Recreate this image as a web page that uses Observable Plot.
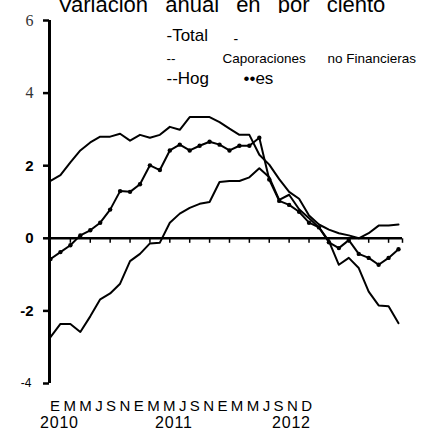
<!DOCTYPE html>
<html>
<head>
<meta charset="utf-8">
<script src="https://cdn.jsdelivr.net/npm/d3@7"></script>
<script src="https://cdn.jsdelivr.net/npm/@observablehq/plot@0.6"></script>
<style>
  html, body { margin: 0; padding: 0; background: #fff; }
  #wrap { position: relative; width: 421px; height: 429px; overflow: hidden; font-family: "Liberation Sans", Arial, sans-serif; color: #000; }
  .abs { position: absolute; white-space: nowrap; }
  #title { left: 58px; top: -5.6px; font-size: 22px; line-height: 22px; word-spacing: 11px; }
  #months { left: 50px; top: 398.3px; font-size: 15px; line-height: 15px; letter-spacing: 3.4px; }
  .year { top: 414.5px; font-size: 16px; line-height: 16px; letter-spacing: 0.8px; }
  #chart { position: absolute; left: 0; top: 13px; }
</style>
</head>
<body>
<div id="wrap">
  <div id="title" class="abs"></div>
  <div id="chart"></div>
  <div id="months" class="abs"></div>
</div>
<script>
// ---- data ----
const months = ["2010-01","2010-02","2010-03","2010-04","2010-05","2010-06","2010-07","2010-08","2010-09","2010-10","2010-11","2010-12",
                "2011-01","2011-02","2011-03","2011-04","2011-05","2011-06","2011-07","2011-08","2011-09","2011-10","2011-11","2011-12",
                "2012-01","2012-02","2012-03","2012-04","2012-05","2012-06","2012-07","2012-08","2012-09","2012-10","2012-11","2012-12"];
const total = [1.58,1.74,2.09,2.42,2.64,2.80,2.80,2.88,2.69,2.85,2.77,2.85,
               3.07,2.99,3.34,3.34,3.34,3.20,3.02,2.85,2.85,2.30,2.03,1.63,
               1.28,1.09,0.63,0.38,0.24,0.14,0.08,0.00,0.14,0.35,0.35,0.38];
const corporaciones = [-2.72,-2.36,-2.36,-2.58,-2.15,-1.68,-1.52,-1.25,-0.63,-0.43,-0.14,-0.12,
                       0.43,0.68,0.84,0.95,1.00,1.55,1.58,1.58,1.68,1.93,1.68,1.06,
                       1.20,0.80,0.55,0.30,-0.08,-0.73,-0.54,-0.82,-1.47,-1.85,-1.87,-2.34];
const hogares = [-0.57,-0.38,-0.19,0.08,0.22,0.43,0.79,1.30,1.28,1.49,2.01,1.88,
                 2.42,2.58,2.42,2.55,2.66,2.58,2.42,2.55,2.55,2.77,1.62,1.03,
                 0.92,0.73,0.43,0.30,-0.11,-0.27,-0.05,-0.43,-0.54,-0.73,-0.54,-0.30];
const yTicksSerif = [6, 4];
const yTicksSans = [2, 0, -2];
const yTicksLow = [-4];
const xTickMonths = [2,4,6,8,10,12,14,16,18,20,22,24,26,28,30,32,34];
const monthLetters = "EMMJSNEMMJSNEMMJSND";
const years = ["2010", "2011", "2012"];
const titleText = "Variación anual en por ciento";
const legendTexts = ["-Total", "-", "--", "Caporaciones", "no Financieras", "--Hog", "••es"];

// ---- layout / style (not data) ----
const yearLeft = [40, 155, 272];
const legendStyle = [
  {dx: 117, dy: 20, fs: 17},
  {dx: 184, dy: 23, fs: 14},
  {dx: 117, dy: 42, fs: 13.5},
  {dx: 173, dy: 42, fs: 13.5},
  {dx: 278, dy: 42, fs: 13.5},
  {dx: 117, dy: 63, fs: 17},
  {dx: 194, dy: 63, fs: 17}
];
const xDomain = [-0.1, 35.4];
const yDomain = [-4, 6];

document.getElementById("title").textContent = titleText;
document.getElementById("months").textContent = monthLetters;
const wrap = document.getElementById("wrap");
years.forEach((y, k) => {
  const d = document.createElement("div");
  d.className = "abs year";
  d.style.left = yearLeft[k] + "px";
  d.textContent = y;
  wrap.appendChild(d);
});

const rows = [];
months.forEach((m, i) => {
  rows.push({i, month: m, serie: "Total", v: total[i]});
  rows.push({i, month: m, serie: "Corporaciones no Financieras", v: corporaciones[i]});
  rows.push({i, month: m, serie: "Hogares", v: hogares[i]});
});
const hogRows = rows.filter(d => d.serie === "Hogares");

const tickDown = { draw(ctx) { ctx.moveTo(0, 0); ctx.lineTo(0, 4.5); } };
const fmt = d => String(d);

const legendMarks = legendTexts.map((t, k) => Plot.text([t], {
  text: d => d, frameAnchor: "top-left", dx: legendStyle[k].dx, dy: legendStyle[k].dy,
  textAnchor: "start", lineAnchor: "bottom", fontSize: legendStyle[k].fs,
  fontFamily: "Liberation Sans, Arial, sans-serif", fill: "black"
}));

const chart = Plot.plot({
  width: 421,
  height: 378,
  marginLeft: 49,
  marginRight: 19,
  marginTop: 7,
  marginBottom: 8,
  style: {background: "white", fontFamily: "Liberation Sans, Arial, sans-serif", overflow: "visible"},
  x: {domain: xDomain, axis: null},
  y: {domain: yDomain, axis: null},
  marks: [
    Plot.axisY(yTicksSerif, {tickSize: 6, tickPadding: 10, tickFormat: fmt, fontSize: 16,
      fontFamily: "Liberation Serif, Times New Roman, serif", fill: "#333", strokeWidth: 2.5, label: null}),
    Plot.axisY(yTicksSans, {tickSize: 6, tickPadding: 10, tickFormat: fmt, fontSize: 15,
      fontWeight: "bold", strokeWidth: 2.5, label: null}),
    Plot.axisY(yTicksLow, {tickSize: 6, tickPadding: 12, tickFormat: fmt, fontSize: 12,
      strokeWidth: 2.5, label: null}),
    Plot.ruleY([0], {stroke: "black", strokeWidth: 2.5}),
    Plot.ruleX([xDomain[0]], {y1: yDomain[0], y2: yDomain[1], stroke: "black", strokeWidth: 3}),
    Plot.dot(xTickMonths.concat([xDomain[1]]), {x: d => d, y: () => 0, symbol: tickDown,
      fill: "none", stroke: "black", strokeWidth: 1.5}),
    Plot.line(rows, {x: "i", y: "v", z: "serie", stroke: "black", strokeWidth: 2, strokeLinejoin: "round"}),
    Plot.dot(hogRows, {x: "i", y: "v", r: 2.2, fill: "black"}),
    ...legendMarks
  ]
});
document.getElementById("chart").appendChild(chart);
</script>
</body>
</html>
